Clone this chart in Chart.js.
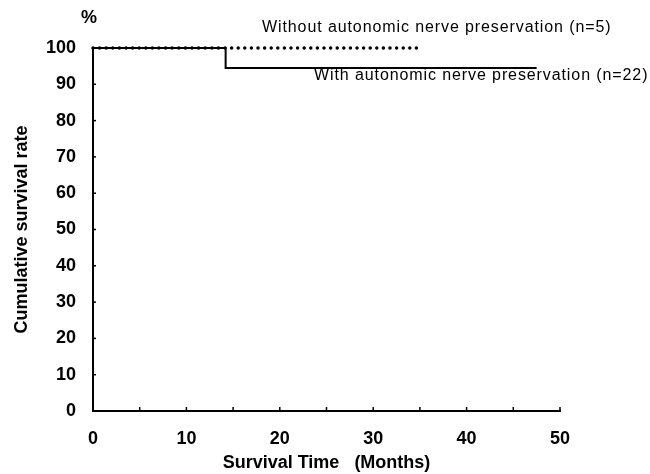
<!DOCTYPE html>
<html>
<head>
<meta charset="utf-8">
<script src="https://cdn.jsdelivr.net/npm/chart.js@4"></script>
<style>
  body { margin: 0; background: #fff; }
  #wrap { width: 650px; height: 474px; }
</style>
</head>
<body>
<div id="wrap"><canvas id="km" width="650" height="474"></canvas></div>
<script>
// Kaplan-Meier curves (months, %)
const timesWith = [0, 14.2, 47.5];
const survivalWith = [100, 94.5, 94.5];
const timesWithout = [0, 35];
const survivalWithout = [100, 100];

const labelWith = 'With autonomic nerve preservation (n=22)';
const labelWithout = 'Without autonomic nerve preservation (n=5)';
const xTitle = 'Survival Time   (Months)';
const yTitle = 'Cumulative survival rate';

const FONT = '"Liberation Sans", Arial, sans-serif';

function toPoints(xs, ys) {
    return xs.map((x, i) => ({ x: x, y: ys[i] }));
}

// small tick marks pointing into the plot, plus the text notes
const annotate = {
    id: 'annotate',
    afterDraw(chart) {
        const ctx = chart.ctx;
        const xs = chart.scales.x;
        const ys = chart.scales.y;
        ctx.save();
        ctx.strokeStyle = '#000';
        ctx.lineWidth = 1.5;
        xs.ticks.forEach(t => {
            if (t.value === 0) return;
            const px = xs.getPixelForValue(t.value);
            ctx.beginPath();
            ctx.moveTo(px, xs.top);
            ctx.lineTo(px, xs.top - 4);
            ctx.stroke();
        });
        ys.ticks.forEach(t => {
            if (t.value === 0) return;
            const py = ys.getPixelForValue(t.value);
            ctx.beginPath();
            ctx.moveTo(ys.right, py);
            ctx.lineTo(ys.right + 3, py);
            ctx.stroke();
        });

        ctx.fillStyle = '#000';
        ctx.textBaseline = 'middle';
        ctx.font = 'bold 18px ' + FONT;
        ctx.textAlign = 'center';
        ctx.fillText('%', 89, 18);

        ctx.font = '16px ' + FONT;
        ctx.letterSpacing = '0.9px';
        ctx.textAlign = 'left';
        ctx.fillText(labelWithout, 262, 28);
        ctx.fillText(labelWith, 314, 76);
        ctx.restore();
    }
};

new Chart(document.getElementById('km'), {
    type: 'line',
    data: {
        datasets: [
            {
                label: labelWithout,
                data: toPoints(timesWithout, survivalWithout),
                borderColor: '#000',
                borderWidth: 3.5,
                borderDash: [0, 6.6],
                borderCapStyle: 'round',
                pointRadius: 0,
                fill: false,
                clip: false
            },
            {
                label: labelWith,
                data: toPoints(timesWith, survivalWith),
                borderColor: '#000',
                borderWidth: 2,
                stepped: true,
                pointRadius: 0,
                fill: false,
                clip: false
            }
        ]
    },
    options: {
        responsive: false,
        animation: false,
        layout: { padding: { top: 48, right: 90, left: 0, bottom: 0 } },
        plugins: {
            legend: { display: false },
            tooltip: { enabled: false }
        },
        scales: {
            x: {
                type: 'linear',
                min: 0,
                max: 50,
                grid: { display: false },
                border: { display: true, color: '#000', width: 2 },
                ticks: {
                    stepSize: 5,
                    padding: 9,
                    color: '#000',
                    font: { family: FONT, size: 18, weight: 'bold' },
                    callback: v => (v % 10 === 0 ? v : '')
                },
                title: {
                    display: true,
                    text: xTitle,
                    color: '#000',
                    font: { family: FONT, size: 18, weight: 'bold' },
                    padding: { top: 2, bottom: 0 }
                },
                afterFit(scale) { scale.height = 63; }
            },
            y: {
                min: 0,
                max: 100,
                grid: { display: false },
                border: { display: true, color: '#000', width: 2 },
                ticks: {
                    stepSize: 10,
                    padding: 9,
                    color: '#000',
                    font: { family: FONT, size: 18, weight: 'bold' }
                },
                title: {
                    display: true,
                    text: yTitle,
                    color: '#000',
                    font: { family: FONT, size: 18, weight: 'bold' },
                    padding: { top: 11, bottom: 0 }
                },
                afterFit(scale) { scale.width = 93; }
            }
        }
    },
    plugins: [annotate]
});
</script>
</body>
</html>
